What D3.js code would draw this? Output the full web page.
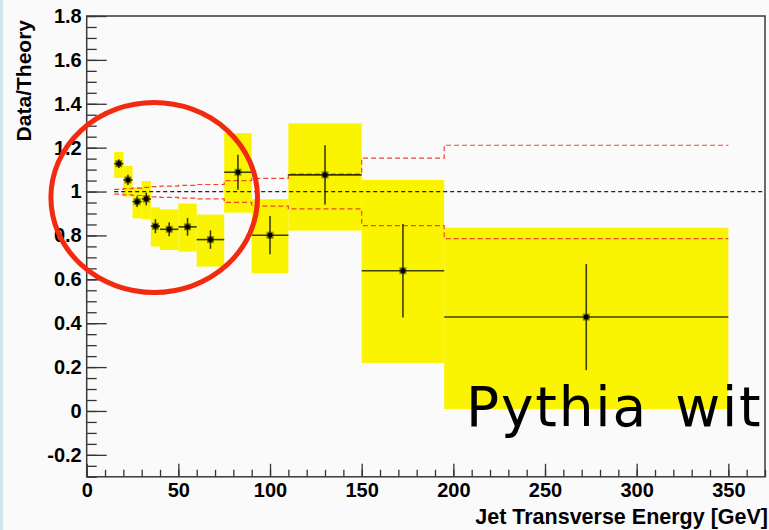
<!DOCTYPE html>
<html>
<head>
<meta charset="utf-8">
<script src="https://cdn.jsdelivr.net/npm/d3@7"></script>
<style>
  html, body { margin: 0; padding: 0; background: #fafafa; }
  svg { display: block; }
  .tick text { font-family: "Liberation Sans", Arial, sans-serif; font-weight: bold; font-size: 20px; fill: #000; }
</style>
</head>
<body>
<svg id="chart" width="769" height="530"></svg>
<script>
// Jet ET bins [GeV]
const binLo = [15, 20, 25, 30, 35, 40, 50, 60, 75, 90, 110, 150, 195];
const binHi = [20, 25, 30, 35, 40, 50, 60, 75, 90, 110, 150, 195, 350];
// Data/Theory ratio and statistical error
const ratio   = [1.127, 1.053, 0.954, 0.966, 0.842, 0.828, 0.839, 0.781, 1.088, 0.801, 1.076, 0.639, 0.428];
const statErr = [0.020, 0.023, 0.024, 0.029, 0.032, 0.032, 0.040, 0.042, 0.080, 0.087, 0.135, 0.213, 0.242];
// Systematic band (yellow boxes)
const sysHi = [1.180, 1.117, 1.020, 1.048, 0.928, 0.919, 0.945, 0.895, 1.266, 0.965, 1.311, 1.053, 0.835];
const sysLo = [1.062, 0.977, 0.878, 0.874, 0.749, 0.734, 0.726, 0.658, 0.904, 0.628, 0.822, 0.219, 0.009];
// Theory uncertainty envelope (red dashed)
const theoryUp = [1.010, 1.013, 1.016, 1.019, 1.022, 1.025, 1.028, 1.032, 1.050, 1.060, 1.080, 1.152, 1.211];
const theoryDn = [0.988, 0.985, 0.982, 0.979, 0.976, 0.973, 0.970, 0.967, 0.951, 0.934, 0.921, 0.845, 0.785];
// Axis ticks
const xMajor = [0, 50, 100, 150, 200, 250, 300, 350];
const xMinor = d3.range(0, 371, 10);
const yMajor = [-0.2, 0, 0.2, 0.4, 0.6, 0.8, 1, 1.2, 1.4, 1.6, 1.8];
const yMinor = d3.range(-30, 181, 5).map(v => v / 100);

const svg = d3.select("#chart");
const W = 769, H = 530;

svg.append("rect").attr("width", W).attr("height", H).attr("fill", "#fafafa");
svg.append("rect").attr("width", 3).attr("height", H).attr("fill", "#cbe6ec");

const x = d3.scaleLinear().domain([0, 370]).range([86.7, 765]);
const y = d3.scaleLinear().domain([-0.3, 1.8]).range([476.8, 16]);

const bins = binLo.map((lo, i) => ({
  lo, hi: binHi[i], c: (lo + binHi[i]) / 2,
  r: ratio[i], e: statErr[i], sh: sysHi[i], sl: sysLo[i]
}));

// systematic boxes
svg.append("g").selectAll("rect").data(bins).join("rect")
  .attr("x", d => x(d.lo)).attr("width", d => x(d.hi) - x(d.lo))
  .attr("y", d => y(d.sh)).attr("height", d => y(d.sl) - y(d.sh))
  .attr("fill", "#faf400");

// reference line at 1
svg.append("line")
  .attr("x1", x(15)).attr("x2", x(370)).attr("y1", y(1)).attr("y2", y(1))
  .attr("stroke", "#222").attr("stroke-width", 1.2).attr("stroke-dasharray", "4,3");

// theory envelope as step lines
const stepLine = d3.line().x(d => x(d[0])).y(d => y(d[1])).curve(d3.curveStepAfter);
[theoryUp, theoryDn].forEach(vals => {
  const pts = binLo.map((lo, i) => [lo, vals[i]]);
  pts.push([binHi[binHi.length - 1], vals[vals.length - 1]]);
  svg.append("path").attr("d", stepLine(pts))
    .attr("fill", "none").attr("stroke", "#f2462e").attr("stroke-width", 1.2)
    .attr("stroke-dasharray", "5,3");
});

// error bars
const eb = svg.append("g").attr("stroke", "#000").attr("stroke-opacity", 0.75).attr("stroke-width", 1.6);
eb.selectAll("line.h").data(bins).join("line").attr("class", "h")
  .attr("x1", d => x(d.lo)).attr("x2", d => x(d.hi))
  .attr("y1", d => y(d.r)).attr("y2", d => y(d.r));
eb.selectAll("line.v").data(bins).join("line").attr("class", "v")
  .attr("x1", d => x(d.c)).attr("x2", d => x(d.c))
  .attr("y1", d => y(d.r - d.e)).attr("y2", d => y(d.r + d.e));

// markers
const mk = svg.append("g");
mk.selectAll("rect.o").data(bins).join("rect").attr("class", "o")
  .attr("x", d => x(d.c) - 3.5).attr("y", d => y(d.r) - 3.5)
  .attr("width", 7).attr("height", 7).attr("fill", "#000").attr("fill-opacity", 0.45);
mk.selectAll("rect.i").data(bins).join("rect").attr("class", "i")
  .attr("x", d => x(d.c) - 2.2).attr("y", d => y(d.r) - 2.2)
  .attr("width", 4.4).attr("height", 4.4).attr("fill", "#000");

// axes (ticks drawn inward)
const fmt = d => String(+d.toFixed(1));
const gx = svg.append("g").attr("transform", `translate(0,${y(-0.3)})`);
gx.call(d3.axisBottom(x).tickValues(xMinor).tickSize(-7).tickFormat(""));
gx.call(g => g.select(".domain").remove());
const gx2 = svg.append("g").attr("transform", `translate(0,${y(-0.3)})`);
gx2.call(d3.axisBottom(x).tickValues(xMajor).tickSize(-13).tickPadding(6).tickFormat(fmt));
gx2.call(g => g.select(".domain").remove());

const gy = svg.append("g").attr("transform", `translate(${x(0)},0)`);
gy.call(d3.axisLeft(y).tickValues(yMinor).tickSize(-10).tickFormat(""));
gy.call(g => g.select(".domain").remove());
const gy2 = svg.append("g").attr("transform", `translate(${x(0)},0)`);
gy2.call(d3.axisLeft(y).tickValues(yMajor).tickSize(-20).tickPadding(5).tickFormat(fmt));
gy2.call(g => g.select(".domain").remove());

svg.selectAll(".tick line").attr("stroke", "#333").attr("stroke-width", 1.3);

// frame
svg.append("rect")
  .attr("x", x(0)).attr("y", y(1.8))
  .attr("width", x(370) - x(0)).attr("height", y(-0.3) - y(1.8))
  .attr("fill", "none").attr("stroke", "#3a3a3a").attr("stroke-width", 1.5);

// axis titles
svg.append("text")
  .attr("transform", `translate(31,20) rotate(-90)`)
  .attr("text-anchor", "end")
  .style("font-family", "'Liberation Sans', Arial, sans-serif")
  .style("font-weight", "bold").style("font-size", "21px")
  .text("Data/Theory");
svg.append("text")
  .attr("x", 768).attr("y", 523.5)
  .attr("text-anchor", "end")
  .style("font-family", "'Liberation Sans', Arial, sans-serif")
  .style("font-weight", "bold").style("font-size", "21.5px")
  .text("Jet Transverse Energy [GeV]");

// highlight ellipse around the low-ET points
svg.append("ellipse")
  .attr("cx", 154.2).attr("cy", 197.5).attr("rx", 103.3).attr("ry", 95)
  .attr("fill", "none").attr("stroke", "#f22a10").attr("stroke-width", 5);

// annotation
svg.append("text")
  .attr("x", 466).attr("y", 425.5)
  .style("font-family", "'DejaVu Sans', sans-serif")
  .style("font-size", "55px")
  .style("letter-spacing", "1.8px")
  .style("word-spacing", "8px")
  .attr("fill", "#000")
  .text("Pythia wit");
</script>
</body>
</html>
